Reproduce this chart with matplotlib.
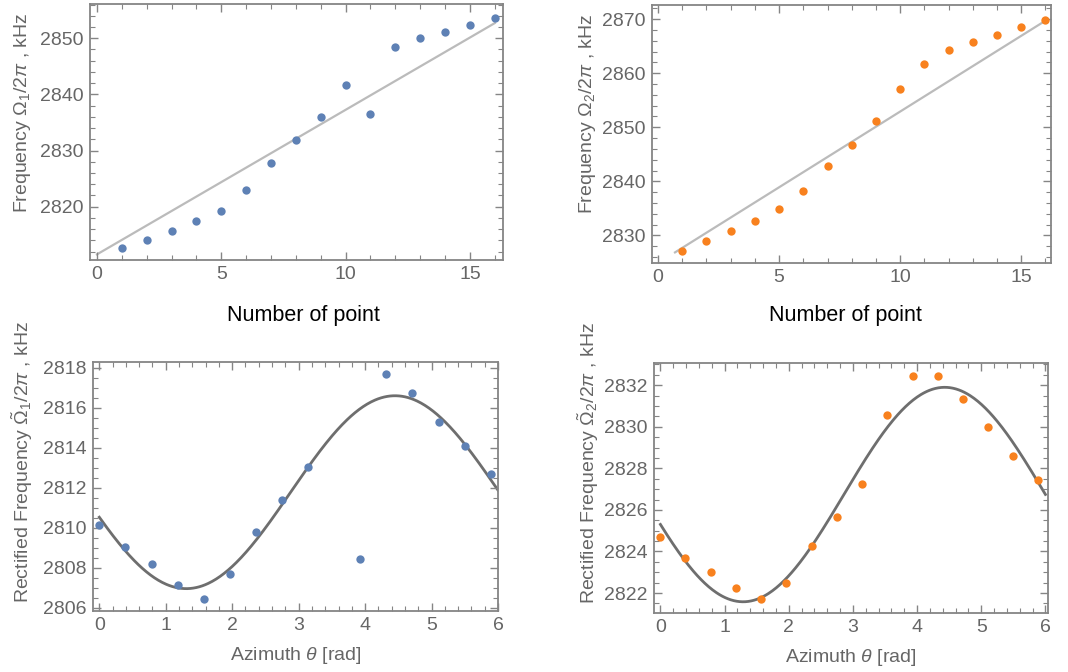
import numpy as np
import matplotlib
matplotlib.use("Agg")
import matplotlib.pyplot as plt
from matplotlib.ticker import MultipleLocator

plt.rcParams['font.family'] = ['Liberation Sans', 'DejaVu Sans']
plt.rcParams['mathtext.fontset'] = 'custom'
plt.rcParams['mathtext.rm'] = 'Liberation Sans'
plt.rcParams['mathtext.it'] = 'Liberation Sans:italic'
plt.rcParams['mathtext.bf'] = 'Liberation Sans:bold'

# ---------------- data ----------------
point_num = list(range(1, 17))
freq1 = [2812.6, 2814.1, 2815.7, 2817.45, 2819.2, 2823.0, 2827.7, 2831.8,
         2836.0, 2841.6, 2836.5, 2848.5, 2850.0, 2851.2, 2852.4, 2853.6]
freq2 = [2827.1, 2828.9, 2830.9, 2832.7, 2834.8, 2838.3, 2842.9, 2846.7,
         2851.1, 2857.1, 2861.7, 2864.2, 2865.7, 2867.0, 2868.6, 2869.8]

theta1 = [0.0, 0.39, 0.79, 1.18, 1.57, 1.96, 2.36, 2.75, 3.14,
          3.93, 4.32, 4.71, 5.11, 5.50, 5.89]
rect1 = [2810.15, 2809.06, 2808.16, 2807.14, 2806.45, 2807.67, 2809.81, 2811.40,
         2813.04, 2808.44, 2817.71, 2816.76, 2815.29, 2814.07, 2812.70]
theta2 = [0.0, 0.39, 0.79, 1.18, 1.57, 1.96, 2.36, 2.75, 3.14, 3.53,
          3.93, 4.32, 4.71, 5.11, 5.50, 5.89]
rect2 = [2824.72, 2823.68, 2823.02, 2822.22, 2821.71, 2822.48, 2824.26, 2825.65,
         2827.23, 2830.57, 2832.43, 2832.43, 2831.36, 2829.98, 2828.61, 2827.42]

# linear fit lines (intercept, slope) and their x extents
line1_intercept, line1_slope = 2811.5, 2.575
line2_intercept, line2_slope = 2824.9, 2.80
line1_x = (0.0, 16.0)
line2_x = (0.7, 16.0)

# sinusoidal fit parameters (offset, amplitude, angle of maximum)
fit1_offset, fit1_amp, fit1_peak = 2811.78, 4.83, 4.45
fit2_offset, fit2_amp, fit2_peak = 2826.74, 5.16, 4.43

blue = '#5E81B5'
orange = '#F8811E'
grey_txt = '#666666'
frame = '#858585'

W, H = 1068, 672
fig = plt.figure(figsize=(W / 100, H / 100), dpi=100)


def add_ax(l, r, t, b):
    return fig.add_axes([l / W, 1 - b / H, (r - l) / W, (b - t) / H])


def style(ax, xmaj, xmin, ymaj, ymin):
    for s in ax.spines.values():
        s.set_color(frame)
        s.set_linewidth(1.3)
    ax.xaxis.set_major_locator(MultipleLocator(xmaj))
    ax.xaxis.set_minor_locator(MultipleLocator(xmin))
    ax.yaxis.set_major_locator(MultipleLocator(ymaj))
    ax.yaxis.set_minor_locator(MultipleLocator(ymin))
    ax.tick_params(which='both', direction='in', top=True, right=True,
                   color=frame, labelcolor=grey_txt, labelsize=14, pad=4.5)
    ax.tick_params(which='major', length=6, width=1.0)
    ax.tick_params(which='minor', length=3.5, width=0.8)


# ---- top-left ----
ax1 = add_ax(90, 503, 4, 260)
lx = np.array(line1_x)
ax1.plot(lx, line1_intercept + line1_slope * lx, color='#bbbbbb', lw=1.6, zorder=1)
ax1.scatter(point_num, freq1, s=36, color=blue, zorder=2, linewidths=0)
ax1.set_xlim(-0.28, 16.33)
ax1.set_ylim(2810.5, 2856.1)
style(ax1, 5, 1, 10, 2)
ax1.set_xlabel('Number of point', fontsize=15.5, color='black', va='center')
ax1.xaxis.set_label_coords(0.516, -0.215)
ax1.set_ylabel(r'Frequency $\Omega_1/2\pi$ , kHz', fontsize=14, color=grey_txt, va='center')
ax1.yaxis.set_label_coords((23 - 90) / 413, 0.576)

# ---- top-right ----
ax2 = add_ax(652, 1051, 5, 263)
lx = np.array(line2_x)
ax2.plot(lx, line2_intercept + line2_slope * lx, color='#bbbbbb', lw=1.6, zorder=1)
ax2.scatter(point_num, freq2, s=36, color=orange, zorder=2, linewidths=0)
ax2.set_xlim(-0.25, 16.23)
ax2.set_ylim(2824.9, 2872.6)
style(ax2, 5, 1, 10, 2)
ax2.set_xlabel('Number of point', fontsize=15.5, color='black', va='center')
ax2.xaxis.set_label_coords(0.486, -0.205)
ax2.set_ylabel(r'Frequency $\Omega_2/2\pi$ , kHz', fontsize=14, color=grey_txt, va='center')
ax2.yaxis.set_label_coords((587 - 652) / 399, 0.58)

# ---- bottom-left ----
th = np.linspace(0, 6.0, 400)
ax3 = add_ax(93, 498, 362, 611)
ax3.plot(th, fit1_offset + fit1_amp * np.cos(th - fit1_peak), color='#6e6e6e', lw=2.0, zorder=1)
ax3.scatter(theta1, rect1, s=36, color=blue, zorder=2, linewidths=0)
ax3.set_xlim(-0.095, 6.0)
ax3.set_ylim(2805.83, 2818.3)
style(ax3, 1, 0.2, 2, 0.5)
ax3.set_xlabel(r'Azimuth $\theta$ [rad]', fontsize=14, color=grey_txt, va='center')
ax3.xaxis.set_label_coords(0.5, -0.18)
ax3.set_ylabel(r'Rectified Frequency $\tilde{\Omega}_1/2\pi$ , kHz', fontsize=14,
               color=grey_txt, va='center')
ax3.yaxis.set_label_coords((22 - 93) / 405, 0.60)

# ---- bottom-right ----
ax4 = add_ax(654, 1048, 363, 613)
ax4.plot(th, fit2_offset + fit2_amp * np.cos(th - fit2_peak), color='#6e6e6e', lw=2.0, zorder=1)
ax4.scatter(theta2, rect2, s=36, color=orange, zorder=2, linewidths=0)
ax4.set_xlim(-0.1, 6.04)
ax4.set_ylim(2821.04, 2833.07)
style(ax4, 1, 0.2, 2, 0.5)
ax4.set_xlabel(r'Azimuth $\theta$ [rad]', fontsize=14, color=grey_txt, va='center')
ax4.xaxis.set_label_coords(0.5, -0.176)
ax4.set_ylabel(r'Rectified Frequency $\tilde{\Omega}_2/2\pi$ , kHz', fontsize=14,
               color=grey_txt, va='center')
ax4.yaxis.set_label_coords((588 - 654) / 394, 0.60)

fig.savefig('out.png', dpi=100)
